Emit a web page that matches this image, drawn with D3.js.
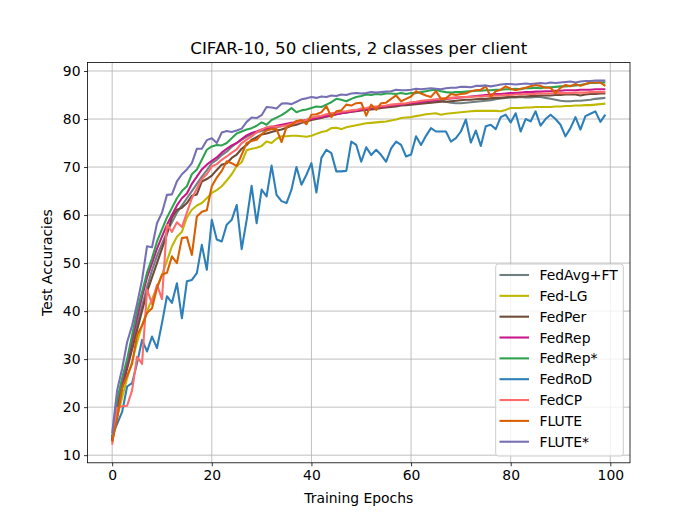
<!DOCTYPE html>
<html lang="en">
<head>
<meta charset="UTF-8" />
<title>CIFAR-10, 50 clients, 2 classes per client</title>
<script src="https://cdn.jsdelivr.net/npm/d3@7"></script>
<style>
  body { margin: 0; background: #fff; }
  svg { font-family: 'DejaVu Sans', sans-serif; }
</style>
</head>
<body>
<svg width="700" height="520"></svg>
<script>
  // test accuracy per epoch (epoch = index)
  const fedAvgFT = [13.5, 20, 24.5, 28.5, 33, 37, 41, 45, 48.5, 51.5, 54, 56.5, 58.5, 60.5, 62, 63.5, 65, 66.5, 68, 69.3,
    70.8, 71.5, 72.5, 73.2, 74.2, 75, 75.7, 76.3, 76.8, 77.2, 77.5, 77.8, 78, 78.3, 78.5, 78.8, 79, 79.3, 79.5, 79.8,
    80.1, 80.3, 80.5, 80.7, 80.9, 81.1, 81.3, 81.5, 81.6, 81.8, 82, 82.1, 82.3, 82.4, 82.5, 82.7, 82.8, 82.9, 83, 83.1,
    83.2, 83.3, 83.4, 83.5, 83.5, 83.6, 84, 83.6, 83.4, 83.3, 83.3, 83.4, 83.5, 83.6, 83.7, 83.8, 83.9, 84.1, 84.3, 84.4,
    84.5, 84.5, 84.6, 84.5, 84.5, 84.6, 84.6, 84.4, 84.2, 84, 83.8, 83.7, 83.7, 83.8, 83.8, 83.9, 84, 84.2, 84.3, 84.4];
  const fedLG = [13, 18, 22, 26, 29.5, 33.5, 37, 40, 42.5, 45, 47.5, 50.5, 53.5, 55.5, 56.5, 59.5, 61.1, 62, 62.5, 63.5,
    64.6, 65.2, 66, 67.2, 68.5, 70.2, 71, 73.5, 73.8, 74, 74.4, 75.3, 75, 75.9, 76.4, 76.4, 76.5, 76.5, 76.4, 76.3,
    76.5, 76.9, 77.3, 77.5, 78.1, 78.2, 77.9, 78.3, 78.5, 78.7, 78.9, 79.1, 79.2, 79.3, 79.4, 79.5, 79.7, 79.9, 80.2, 80.3,
    80.4, 80.6, 80.8, 81, 81.1, 81.2, 80.9, 81.1, 81.2, 81.3, 81.4, 81.5, 81.6, 81.7, 81.7, 81.7, 81.7, 81.7, 81.6, 81.9,
    82.3, 82.3, 82.3, 82.4, 82.4, 82.5, 82.5, 82.5, 82.5, 82.6, 82.6, 82.7, 82.7, 82.8, 82.8, 82.9, 82.9, 83, 83.1, 83.2];
  const fedPer = [13, 19.5, 24, 28, 32, 36, 40, 44, 47, 50, 53, 56, 59.5, 61.1, 61.5, 62.5, 64, 64.3, 67, 67.5,
    68.2, 69.4, 70.5, 70.8, 71.9, 72.6, 73.8, 74.6, 75.7, 76.2, 76.8, 77, 77.3, 77.6, 77.8, 78.2, 78.6, 78.8, 79.2, 79.5,
    79.8, 80, 80.2, 80.5, 80.7, 81, 81.2, 81.3, 81.5, 81.6, 81.8, 81.9, 82, 82.1, 82.3, 82.4, 82.5, 82.6, 82.8, 82.9,
    83, 83.1, 83.2, 83.3, 83.4, 83.5, 83.6, 83.6, 83.7, 83.8, 83.9, 84, 84, 84.1, 84.2, 84.2, 84.3, 84.4, 84.4, 84.5,
    84.6, 84.6, 84.7, 84.7, 84.8, 84.8, 84.9, 84.9, 84.9, 85, 85, 85.1, 85.1, 85.1, 84.9, 85.1, 85.2, 85.2, 85.3, 85.3];
  const fedRep = [13, 21, 25, 29, 34, 38.5, 43, 47, 50, 53, 55.5, 58, 60, 62, 63.5, 64.5, 66.5, 68, 69.5, 70.5,
    71.3, 72, 73, 73.8, 74.5, 75, 75.8, 76.6, 77.1, 77.4, 77.8, 78, 78.3, 78.6, 78.8, 79, 79.2, 79.3, 79.6, 79.8,
    80, 80.2, 80.4, 80.6, 80.8, 81, 81.2, 81.4, 81.5, 81.7, 81.9, 82, 82.2, 82.3, 82.5, 82.6, 82.8, 82.9, 83, 83.2,
    83.3, 83.4, 83.5, 83.7, 83.8, 83.9, 84.1, 84.2, 84.3, 84.4, 84.5, 84.6, 84.7, 84.8, 84.9, 85, 85.1, 85.2, 85.2, 85.3,
    85.4, 85.4, 85.5, 85.6, 85.6, 85.7, 85.7, 85.8, 85.8, 85.9, 85.9, 86, 86, 86, 86.1, 86.1, 86.1, 86.2, 86.2, 86.2];
  const fedRepStar = [13.5, 21.5, 26, 30, 35, 40, 44, 48, 51, 54.5, 57, 59.5, 61.5, 63.5, 65, 66, 68.5, 69.5, 71.5, 73.6,
    74.3, 74.6, 74.5, 75, 76, 77, 77.4, 77.8, 78.1, 78.6, 79.3, 78.8, 79.8, 80.3, 80.8, 81.5, 82.3, 81.4, 81.8, 82,
    82.3, 82.6, 82.5, 83, 83.5, 84.2, 84, 83.7, 84.2, 84.6, 84.8, 85.1, 85, 85.2, 85.1, 85.3, 85.3, 85.2, 85.4, 85.2,
    85.4, 85.4, 85.6, 85.8, 86, 86.1, 85.8, 85.6, 85.5, 85.6, 85.6, 85.7, 85.8, 85.9, 85.9, 86, 86, 86.1, 86.1, 86.2,
    86.2, 86.3, 86.2, 86.4, 86.4, 86.5, 86.4, 86.6, 86.6, 86.7, 86.8, 86.8, 86.9, 87, 87.1, 87.3, 87.5, 87.5, 87.6, 87.6];
  const fedRoD = [14, 16.5, 19, 24.3, 25, 29.2, 34, 31.6, 34.7, 32.3, 37.5, 43.1, 41.7, 45.8, 38.5, 46.2, 46.5, 47.9, 53.8, 48.6,
    59, 54.9, 54.5, 58, 59, 62.1, 52.9, 59, 66.1, 58.3, 65.3, 63.9, 70.3, 64.2, 62.9, 62.5, 65.3, 70, 66.3, 68.4,
    70.8, 64.7, 71.9, 73.6, 72.9, 69.1, 69.1, 69.2, 75.3, 74.6, 71.1, 74.1, 72.5, 73.6, 72.5, 71.1, 73.9, 75.3, 74.6, 72.2,
    72.6, 76.4, 74.6, 76.5, 78.1, 77.4, 77.4, 77.4, 75.3, 76, 77.4, 79.9, 75.1, 77.6, 74.4, 78.5, 78.8, 77.9, 80.4, 80.9,
    79.3, 81.2, 77.4, 80, 79.5, 81.6, 78.6, 80, 80.9, 80, 78.8, 76.4, 78.1, 80.4, 77.8, 80.6, 81.1, 81.6, 79.4, 80.9];
  const fedCP = [12.2, 19.8, 20.2, 20.3, 23.5, 30.5, 29, 44.5, 41.5, 45.5, 42.5, 58, 56.5, 58.5, 57.5, 60.5, 63.5, 65.5, 67.5, 68.5,
    70.1, 70.6, 71.5, 72.2, 73, 73.7, 75, 75.7, 76.4, 77.2, 77.8, 78.3, 78.5, 78.4, 78.5, 78.7, 79, 79.2, 79.5, 79.8,
    80.3, 80.5, 80.7, 81, 81.2, 81.3, 81.5, 81.6, 81.8, 81.9, 82.2, 82.3, 82.5, 82.6, 82.7, 82.8, 83, 83.1, 83.2, 83.3,
    83.5, 83.6, 83.8, 83.9, 84, 84.1, 84.2, 84.3, 84.4, 84.5, 84.5, 84.6, 84.6, 84.7, 84.7, 84.8, 84.8, 84.9, 84.9, 85,
    85, 85.1, 85.1, 85.2, 85.2, 85.2, 85.3, 85.3, 85.3, 85.4, 85.4, 85.4, 85.4, 85.5, 85.5, 85.5, 85.6, 85.6, 85.6, 85.6];
  const flute = [12.8, 17.5, 24, 26.5, 29, 35, 37, 39.6, 40.6, 44.8, 47.6, 48, 51.4, 50, 55.2, 55.4, 51.7, 59.7, 60.7, 61,
    66, 67.8, 69.2, 71.2, 70.8, 70.2, 72.6, 75, 75.4, 75.7, 76.8, 77.6, 77.9, 77.9, 75.2, 78.3, 78.8, 79.6, 79.8, 78.9,
    80.9, 81, 81.4, 82.7, 80.4, 81.6, 81.8, 83, 82.8, 83.3, 83.4, 80.7, 83, 81.9, 83.3, 83.4, 84.2, 84.9, 83.7, 84.2,
    84.7, 85.8, 85.3, 84.9, 84.6, 85.8, 84.2, 84.3, 85.2, 85, 85.2, 85.3, 85.8, 86, 86.1, 86.8, 84.6, 85.8, 86.1, 86.8,
    86.3, 86, 86.3, 86.5, 86.8, 87.1, 86.9, 86.5, 86.5, 85.4, 86.5, 87.1, 86.8, 87.3, 86.9, 87.3, 87.6, 87.6, 87.6, 86.9];
  const fluteStar = [14.6, 23.5, 28, 33.5, 37, 41.5, 46.5, 53.5, 53.3, 58.3, 60.5, 64.2, 64.3, 67, 68.5, 69.5, 70.8, 73.8, 73.8, 75.6,
    76, 75, 77.2, 77.5, 77.3, 77.6, 78, 79.4, 80.3, 80.2, 80.8, 82.5, 82.4, 82.2, 83.2, 83.3, 83.1, 83.6, 84.1, 84.3,
    84.6, 84.4, 84.7, 84.6, 84.9, 84.8, 85.1, 85, 85.3, 85.4, 85.3, 85.4, 85.6, 85.5, 85.6, 85.7, 85.8, 86.1, 86, 86,
    86.1, 86.3, 86.2, 86.3, 86.4, 86.3, 86.2, 86.4, 86.5, 86.5, 86.7, 86.7, 86.6, 86.9, 86.9, 87, 86.8, 87, 87.2, 87.3,
    87.3, 87.2, 87.3, 87.4, 87.3, 87.4, 87.5, 87.4, 87.6, 87.5, 87.6, 87.7, 87.8, 87.6, 87.8, 87.9, 87.9, 88, 88, 88];

  const names = ['FedAvg+FT', 'Fed-LG', 'FedPer', 'FedRep', 'FedRep*', 'FedRoD', 'FedCP', 'FLUTE', 'FLUTE*'];
  const values = [fedAvgFT, fedLG, fedPer, fedRep, fedRepStar, fedRoD, fedCP, flute, fluteStar];
  const colors = ['#708080', '#bfb800', '#6e4b37', '#c8178a', '#2ea34f', '#2c7fb8', '#ff6b6b', '#d95f02', '#7570b3'];
  const xTicks = [0, 20, 40, 60, 80, 100];
  const yTicks = [10, 20, 30, 40, 50, 60, 70, 80, 90];

  const series = names.map((name, k) => ({ name, color: colors[k], values: values[k] }));

  const svg = d3.select('svg');
  const plotL = 87.5, plotR = 630, plotT = 62.4, plotB = 462.8;

  // matplotlib style 5% margins around the data
  const nEp = fedRoD.length - 1;
  const x = d3.scaleLinear().domain([-0.05 * nEp, nEp * 1.05]).range([plotL, plotR]);
  const [ymin, ymax] = d3.extent(values.flat());
  const pad = (ymax - ymin) * 0.05;
  const y = d3.scaleLinear().domain([ymin - pad, ymax + pad]).range([plotB, plotT]);

  // grid
  const grid = svg.append('g').attr('stroke', '#b0b0b0').attr('stroke-width', 0.8);
  grid.selectAll('.gx').data(xTicks).enter().append('line')
    .attr('x1', d => x(d)).attr('x2', d => x(d)).attr('y1', plotT).attr('y2', plotB);
  grid.selectAll('.gy').data(yTicks).enter().append('line')
    .attr('y1', d => y(d)).attr('y2', d => y(d)).attr('x1', plotL).attr('x2', plotR);

  // lines
  const line = d3.line().x((d, i) => x(i)).y(d => y(d));
  svg.append('defs').append('clipPath').attr('id', 'clip')
    .append('rect').attr('x', plotL).attr('y', plotT).attr('width', plotR - plotL).attr('height', plotB - plotT);
  svg.append('g').attr('clip-path', 'url(#clip)')
    .selectAll('path').data(series).enter().append('path')
    .attr('d', d => line(d.values))
    .attr('fill', 'none')
    .attr('stroke', d => d.color)
    .attr('stroke-width', 2.08)
    .attr('stroke-linejoin', 'round');

  // axes
  const xAxis = svg.append('g').attr('transform', `translate(0,${plotB})`)
    .call(d3.axisBottom(x).tickValues(xTicks).tickFormat(d3.format('d')).tickSize(3.5).tickPadding(3.5));
  const yAxis = svg.append('g').attr('transform', `translate(${plotL},0)`)
    .call(d3.axisLeft(y).tickValues(yTicks).tickFormat(d3.format('d')).tickSize(3.5).tickPadding(3.5));
  [xAxis, yAxis].forEach(a => {
    a.select('.domain').remove();
    a.selectAll('.tick line').attr('stroke', '#000').attr('stroke-width', 0.8);
    a.selectAll('.tick text').attr('fill', '#000')
      .style('font-family', "'DejaVu Sans', sans-serif").style('font-size', '13.9px');
  });

  // frame
  svg.append('rect').attr('x', plotL).attr('y', plotT).attr('width', plotR - plotL).attr('height', plotB - plotT)
    .attr('fill', 'none').attr('stroke', '#000').attr('stroke-width', 0.8);

  // labels
  svg.append('text').attr('x', (plotL + plotR) / 2).attr('y', 54).attr('text-anchor', 'middle')
    .style('font-size', '16.7px').text('CIFAR-10, 50 clients, 2 classes per client');
  svg.append('text').attr('x', (plotL + plotR) / 2).attr('y', 503).attr('text-anchor', 'middle')
    .style('font-size', '13.9px').text('Training Epochs');
  svg.append('text').attr('transform', `translate(52,${(plotT + plotB) / 2}) rotate(-90)`)
    .attr('text-anchor', 'middle').style('font-size', '13.9px').text('Test Accuracies');

  // legend
  const lg = svg.append('g');
  lg.append('rect').attr('x', 495.7).attr('y', 264).attr('width', 127.6).attr('height', 192)
    .attr('rx', 2.8).attr('fill', '#fff').attr('fill-opacity', 0.8)
    .attr('stroke', '#cccccc').attr('stroke-width', 1);
  const item = lg.selectAll('.item').data(series).enter().append('g')
    .attr('transform', (d, i) => `translate(0,${275 + i * 20.84})`);
  item.append('line').attr('x1', 499.5).attr('x2', 529).attr('stroke', d => d.color).attr('stroke-width', 2.08);
  item.append('text').attr('x', 539.5).attr('y', 5).style('font-size', '13.9px').text(d => d.name);
</script>
</body>
</html>
